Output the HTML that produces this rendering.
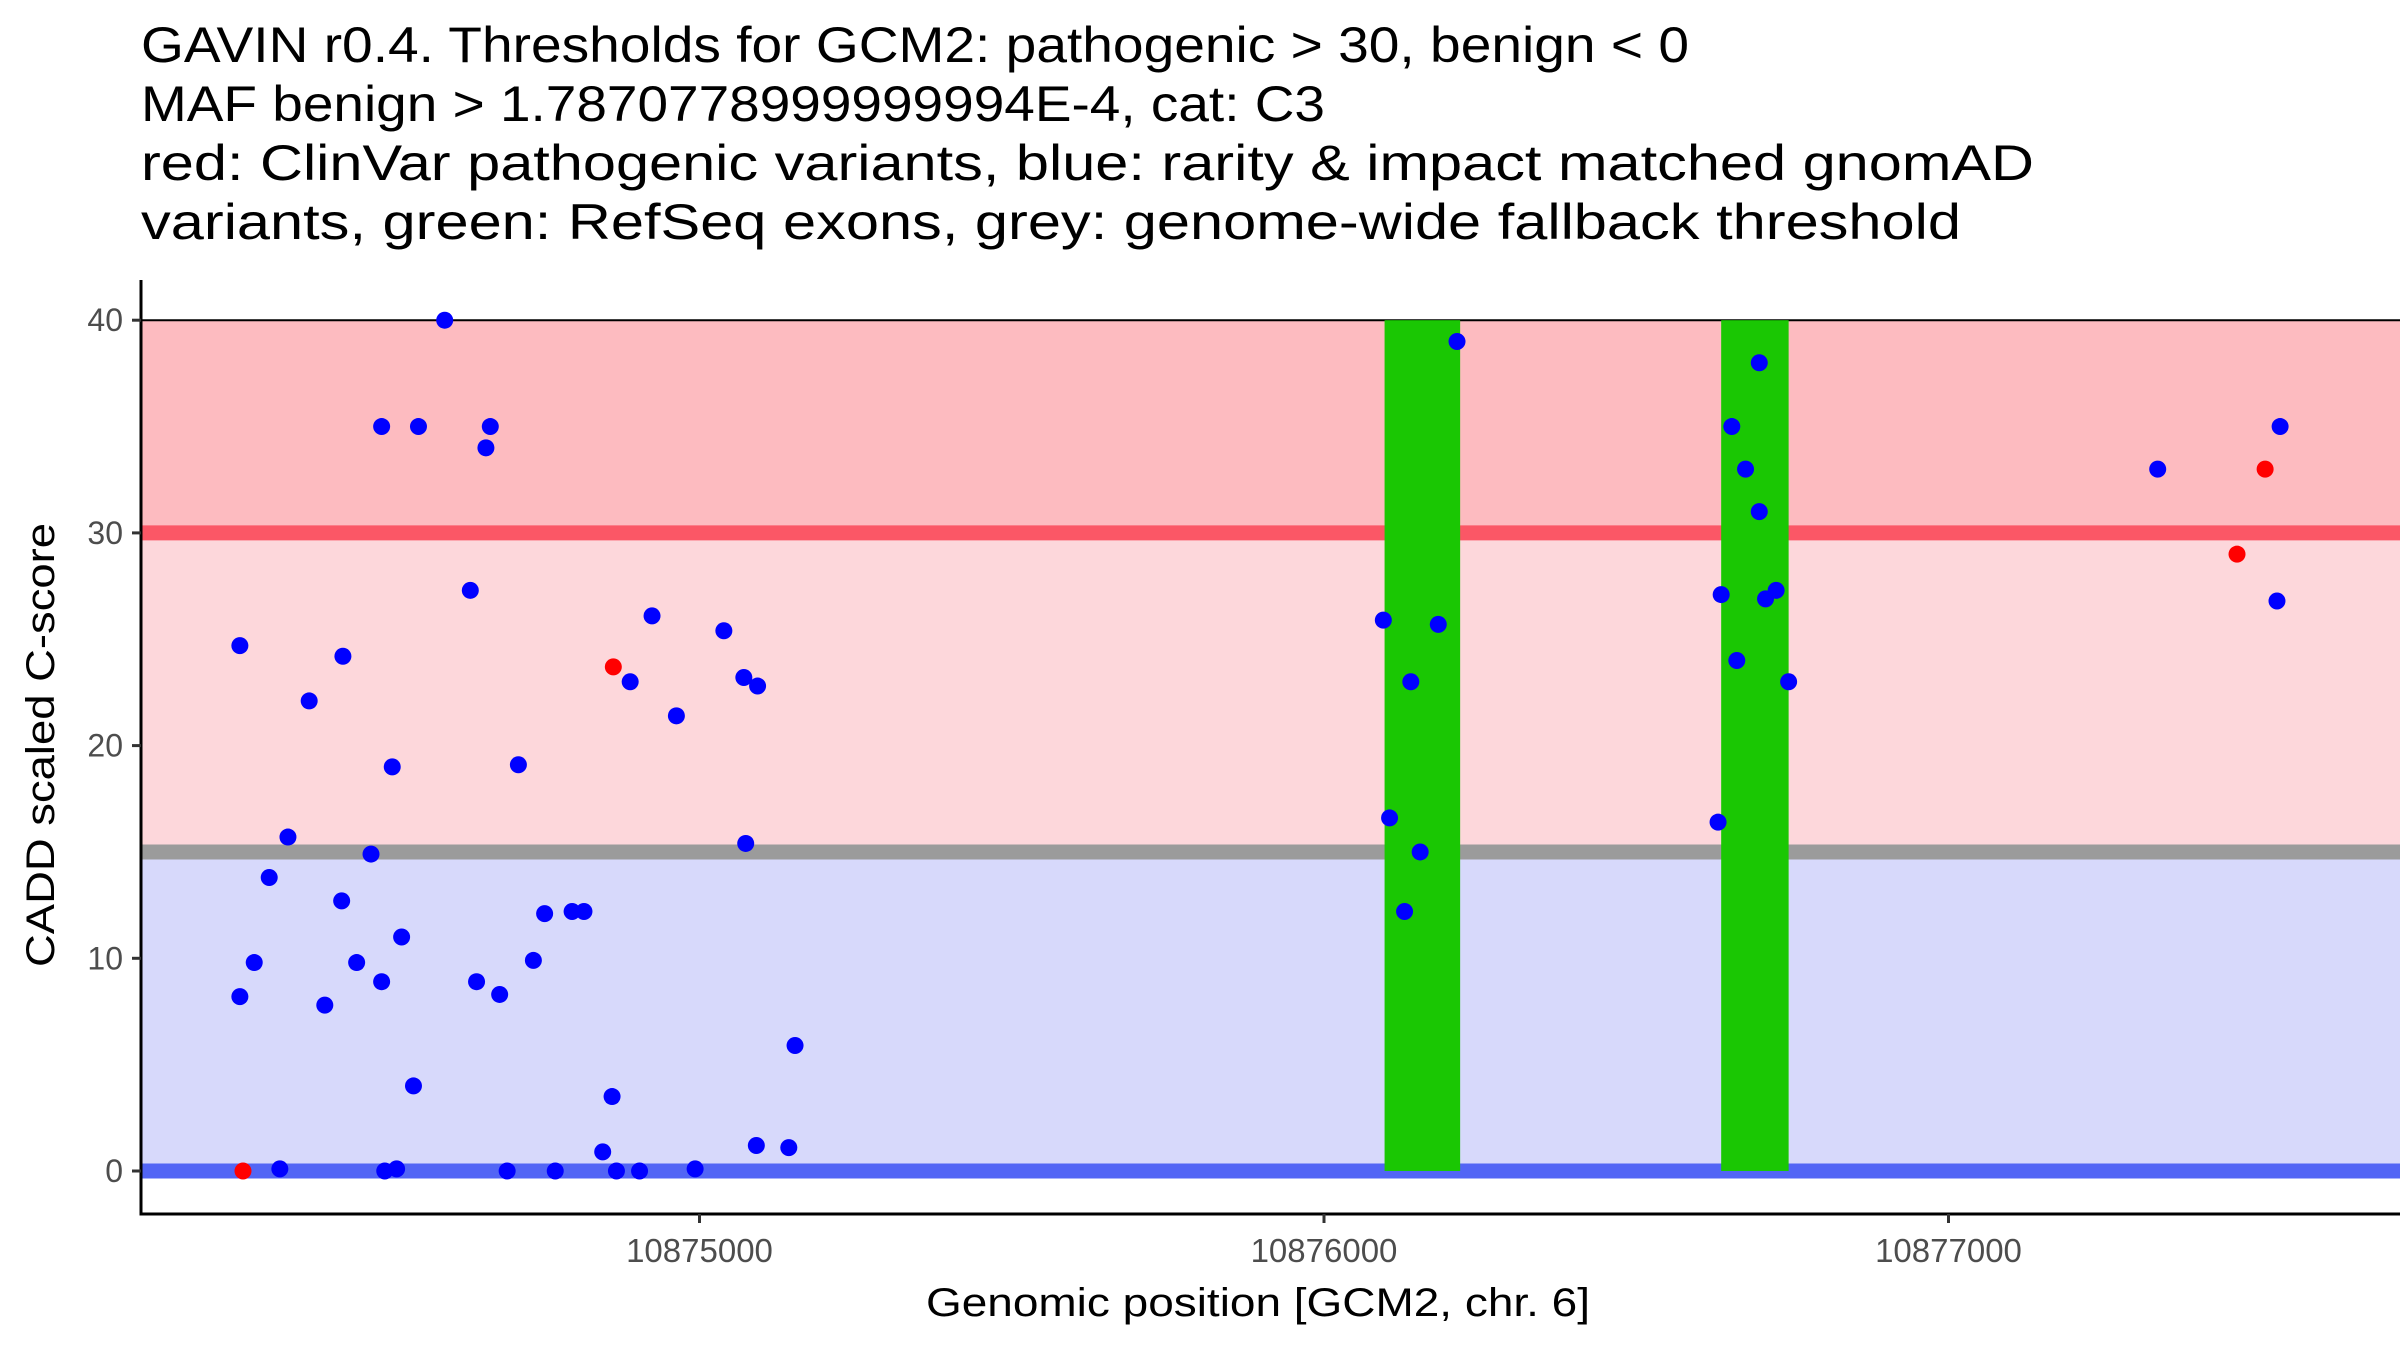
<!DOCTYPE html>
<html><head><meta charset="utf-8"><style>
html,body{margin:0;padding:0;background:#fff;}
svg{display:block;font-family:"Liberation Sans",Arial,sans-serif;}
</style></head><body>
<svg id="chart" width="2400" height="1350" viewBox="0 0 2400 1350">
<g font-size="50" fill="#000">
<text x="141" y="62" textLength="1548" lengthAdjust="spacingAndGlyphs">GAVIN r0.4. Thresholds for GCM2: pathogenic &gt; 30, benign &lt; 0</text>
<text x="141" y="121" textLength="1184" lengthAdjust="spacingAndGlyphs">MAF benign &gt; 1.7870778999999994E-4, cat: C3</text>
<text x="141" y="180" textLength="1893" lengthAdjust="spacingAndGlyphs">red: ClinVar pathogenic variants, blue: rarity &amp; impact matched gnomAD</text>
<text x="141" y="239" textLength="1820" lengthAdjust="spacingAndGlyphs">variants, green: RefSeq exons, grey: genome-wide fallback threshold</text>
</g>
<g id="plot"></g>
<text x="1258" y="1316" text-anchor="middle" font-size="40" textLength="664" lengthAdjust="spacingAndGlyphs">Genomic position [GCM2, chr. 6]</text>
<text transform="translate(54,745) rotate(-90)" text-anchor="middle" font-size="40" textLength="444" lengthAdjust="spacingAndGlyphs">CADD scaled C-score</text>
</svg>
<script>
const blueX=[10874264,10874264,10874287,10874311,10874341,10874328,10874375,10874400,10874427,10874429,10874451,10874474,10874491,10874491,10874496,10874508,10874515,10874523,10874542,10874550,10874592,10874633,10874643,10874658,10874665,10874680,10874692,10874710,10874734,10874752,10874769,10874796,10874815,10874845,10874860,10874867,10874889,10874904,10874924,10874963,10874993,10875039,10875071,10875074,10875091,10875093,10875143,10875153,10876095,10876105,10876129,10876139,10876154,10876183,10876213,10876631,10876636,10876653,10876661,10876675,10876697,10876697,10876707,10876724,10876744,10877335,10877526,10877531];
const blueY=[24.7,8.2,9.8,13.8,15.7,0.1,22.1,7.8,12.7,24.2,9.8,14.9,35,8.9,0,19,0.1,11,4,35,40,27.3,8.9,34,35,8.3,0,19.1,9.9,12.1,0,12.2,12.2,0.9,3.5,0,23,0,26.1,21.4,0.1,25.4,23.2,15.4,1.2,22.8,1.1,5.9,25.9,16.6,12.2,23,15,25.7,39,16.4,27.1,35,24,33,31,38,26.9,27.3,23,33,26.8,35];
const redX=[10874269,10874862,10877462,10877507];
const redY=[0,23.7,29,33];
const exonStart=[10876097,10876636];
const exonEnd=[10876218,10876744];
const xTicks=[10875000,10876000,10877000];
const yTicks=[0,10,20,30,40];
const thresholds=[30,15,0];

const L=141,R=2400,T=320,B=1214;
const xs=v=>699.5+(v-10875000)*0.6245;
const ys=v=>1171-v*21.27;
const NS="http://www.w3.org/2000/svg";
const g=document.getElementById('plot');
function mk(tag,attrs,parent){const e=document.createElementNS(NS,tag);for(const k in attrs)e.setAttribute(k,attrs[k]);(parent||g).appendChild(e);return e;}

let e;
e=mk('rect',{x:L,y:ys(40),width:R-L,height:ys(30)-ys(40),fill:'#fdbbc0'});


e=mk('rect',{x:L,y:ys(30),width:R-L,height:ys(15)-ys(30),fill:'#fdd7db'});


e=mk('rect',{x:L,y:ys(15),width:R-L,height:ys(0)-ys(15),fill:'#d7d9fb'});


e=mk('line',{x1:L,x2:R,y1:ys(40),y2:ys(40),stroke:'#000','stroke-width':2});


const thrCol=['#fb5766','#9b9b9b','#5265f5'];
const thrName=['pathogenic-threshold-line','fallback-threshold-line','benign-threshold-line'];
thresholds.forEach((t,i)=>{
  const l=mk('line',{x1:L,x2:R,y1:ys(t),y2:ys(t),stroke:thrCol[i],'stroke-width':15});
  
  
});
exonStart.forEach((s,i)=>{
  const r=mk('rect',{x:xs(s),y:ys(40),width:xs(exonEnd[i])-xs(s),height:ys(0)-ys(40),fill:'#1ac703'});
  
  
});
blueX.forEach((x,i)=>{
  const c=mk('circle',{cx:xs(x),cy:ys(blueY[i]),r:8.5,fill:'#0000ff'});
  
  
});
redX.forEach((x,i)=>{
  const c=mk('circle',{cx:xs(x),cy:ys(redY[i]),r:8.5,fill:'#ff0000'});
  
  
});
e=mk('line',{x1:L,x2:L,y1:280,y2:B,stroke:'#000','stroke-width':3});


e=mk('line',{x1:L-1.5,x2:R,y1:B,y2:B,stroke:'#000','stroke-width':3});


yTicks.forEach(t=>{
  const tk=mk('line',{x1:L-9,x2:L,y1:ys(t),y2:ys(t),stroke:'#333','stroke-width':3});
  
  
  const tx=mk('text',{x:L-18,y:ys(t)+11,'text-anchor':'end','font-size':32,fill:'#4d4d4d'});
  tx.textContent=t;
  
  
});
xTicks.forEach(t=>{
  const tk=mk('line',{x1:xs(t),x2:xs(t),y1:B,y2:B+9,stroke:'#333','stroke-width':3});
  
  
  const tx=mk('text',{x:xs(t),y:B+48,'text-anchor':'middle','font-size':33,fill:'#4d4d4d'});
  tx.textContent=t;
  
  
});
</script>
</body></html>
